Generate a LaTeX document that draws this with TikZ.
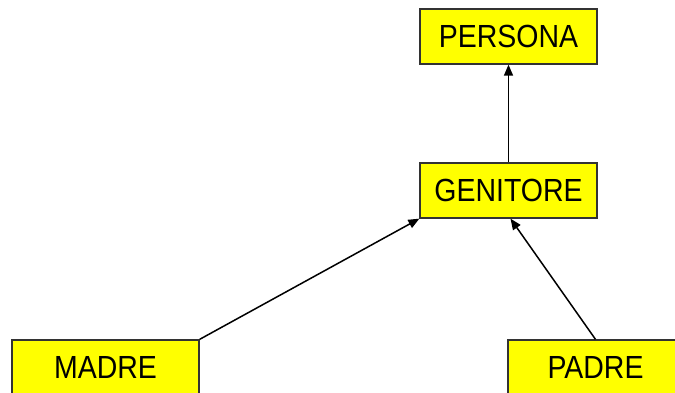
\documentclass[tikz,border=0pt]{standalone}
\usepackage{fontspec}
\setmainfont[FakeStretch=0.89]{Liberation Sans}
\usetikzlibrary{arrows.meta}
\definecolor{boxfill}{HTML}{FFFF00}
\definecolor{boxline}{HTML}{333333}
\tikzset{
  entity/.style={draw=boxline, line width=0.65pt, fill=boxfill, rectangle,
    minimum height=27.5pt, inner sep=0pt, font=\fontsize{16pt}{18pt}\selectfont},
  isa/.style={draw=black, line width=0.75pt, -{Triangle[length=5.5pt,width=4.5pt]}}
}
\begin{document}
\begin{tikzpicture}[x=0.5pt,y=-0.5pt]
\useasboundingbox (0,0) rectangle (675,392);
\node[entity, minimum width=88.5pt] (persona) at (508.5,36.5) {PERSONA};
\node[entity, minimum width=88.5pt] (genitore) at (508.5,190.5) {GENITORE};
\node[entity, minimum width=93.5pt] (madre) at (105.5,367.5) {MADRE};
\node[entity, minimum width=87.5pt] (padre) at (595.5,367.5) {PADRE};
\draw[isa] (genitore.north) -- (persona.south);
\draw[isa] (madre.north east) -- (genitore.south west);
\draw[isa] (padre.north) -- ([xshift=1pt]genitore.south);
\end{tikzpicture}
\end{document}
